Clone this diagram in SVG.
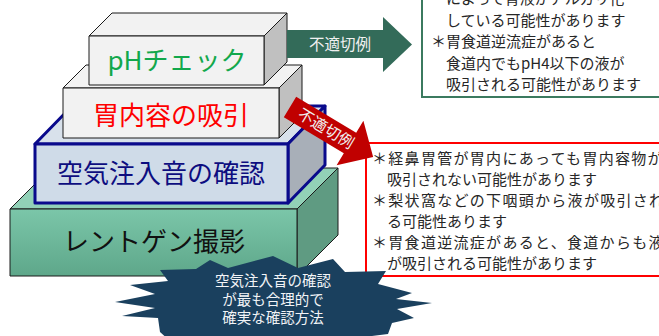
<svg xmlns="http://www.w3.org/2000/svg" width="659" height="336" viewBox="0 0 659 336">
<defs>
<linearGradient id="gfront" x1="0" y1="0" x2="0" y2="1">
<stop offset="0" stop-color="#7bc6a9"/>
<stop offset="1" stop-color="#5ea78a"/>
</linearGradient>
<style>
text{font-family:"Noto Sans CJK JP","Noto Sans",sans-serif;}
.lbl{font-size:26px;text-anchor:middle;}
.gray path{stroke:#1a1a1a;stroke-width:1;stroke-linejoin:round;}
.body{font-size:15px;fill:#262626;}
.arrtxt{font-size:15.5px;fill:#f0f0f0;text-anchor:middle;}
.star{font-size:14.5px;fill:#f2f4f7;text-anchor:middle;}
</style>
</defs>
<rect width="659" height="336" fill="#ffffff"/>

<g id="node-xray" class="gray">
<path d="M10,209 L51,168 L338,168 L297,209 Z" fill="#92d1b7"/>
<path d="M297,209 L338,168 L338,235 L297,276 Z" fill="#5f9b82"/>
<path d="M10,209 H297 V276 H10 Z" fill="url(#gfront)"/>
<text class="lbl" x="154" y="251" fill="#111111" font-size="27">レントゲン撮影</text>
</g>

<g id="node-air">
<path d="M35,144 L72,106 L325,106 L288,144 Z" fill="#d8e1eb" stroke="#0a0a8c" stroke-width="3" stroke-linejoin="round"/>
<path d="M288,144 L325,106 L325,165 L288,203 Z" fill="#a8afb8" stroke="#0a0a8c" stroke-width="3" stroke-linejoin="round"/>
<path d="M35,144 H288 V203 H35 Z" fill="#cfdbe8" stroke="#0a0a8c" stroke-width="3" stroke-linejoin="round"/>
<text class="lbl" x="161" y="183" fill="#0d0d80">空気注入音の確認</text>
</g>

<g id="node-aspirate" class="gray">
<path d="M63,88 L86,65 L302,65 L279,88 Z" fill="#f2f2f2"/>
<path d="M279,88 L302,65 L302,115 L279,138 Z" fill="#c0c0c0"/>
<path d="M63,88 H279 V138 H63 Z" fill="#f2f2f2"/>
<text class="lbl" x="171" y="125" fill="#ff0000">胃内容の吸引</text>
</g>

<g id="node-ph" class="gray">
<path d="M89,36 L112,13 L287,13 L264,36 Z" fill="#f2f2f2"/>
<path d="M264,36 L287,13 L287,62 L264,85 Z" fill="#c0c0c0"/>
<path d="M89,36 H264 V85 H89 Z" fill="#f2f2f2"/>
<text class="lbl" x="177" y="69.5" fill="#12a84c">pHチェック</text>
</g>

<g id="note-ph">
<rect x="422" y="-10" width="260" height="107" fill="#ffffff" stroke="#3b7a5f" stroke-width="2"/>
<text class="body" x="446" y="4">によって胃液がアルカリ化</text>
<text class="body" x="446" y="25.5">している可能性があります</text>
<text class="body" x="431" y="47">＊胃食道逆流症があると</text>
<text class="body" x="446" y="68.5">食道内でもpH4以下の液が</text>
<text class="body" x="446" y="90">吸引される可能性があります</text>
</g>

<g id="note-aspirate">
<rect x="366" y="143" width="310" height="133" fill="#ffffff" stroke="#ff0000" stroke-width="2"/>
<text class="body" x="372" y="164" letter-spacing="1.3">＊経鼻胃管が胃内にあっても胃内容物が</text>
<text class="body" x="387" y="185">吸引されない可能性があります</text>
<text class="body" x="372" y="206" letter-spacing="1.3">＊梨状窩などの下咽頭から液が吸引され</text>
<text class="body" x="387" y="227">る可能性あります</text>
<text class="body" x="372" y="248" letter-spacing="1.3">＊胃食道逆流症があると、食道からも液</text>
<text class="body" x="387" y="269">が吸引される可能性があります</text>
</g>

<g id="connectors">
<g id="arrow-ph">
<path d="M287,30 H383 V17 L412,44.5 L383,72 V58 H287 Z" fill="#336b59"/>
<text class="arrtxt" x="340" y="50" font-size="16" fill="#e6e6e6">不適切例</text>
</g>
<g id="arrow-aspirate" transform="translate(290,107) rotate(31)">
<path d="M0,-12 H70 V-26 L97,0 L70,26 V12 H0 Z" fill="#c00000"/>
<text class="arrtxt" x="42" y="5.5">不適切例</text>
</g>
</g>

<g id="node-conclusion">
<path d="M115,302 L155,294 L130,285 L168,281 L160,270 L196,269 L210,260 L228,268 L273,256 L298,268 L333,259 L345,272 L386,271 L378,284 L412,293 L396,299 L432,303 L397,309 L414,318 L392,323 L388,334 L372,336 L365,350 L180,350 L160,332 L158,318 L122,316 L155,308 Z" fill="#1a405e"/>
<text class="star" x="273" y="286">空気注入音の確認</text>
<text class="star" x="273" y="304.5">が最も合理的で</text>
<text class="star" x="273" y="323">確実な確認方法</text>
</g>
</svg>
